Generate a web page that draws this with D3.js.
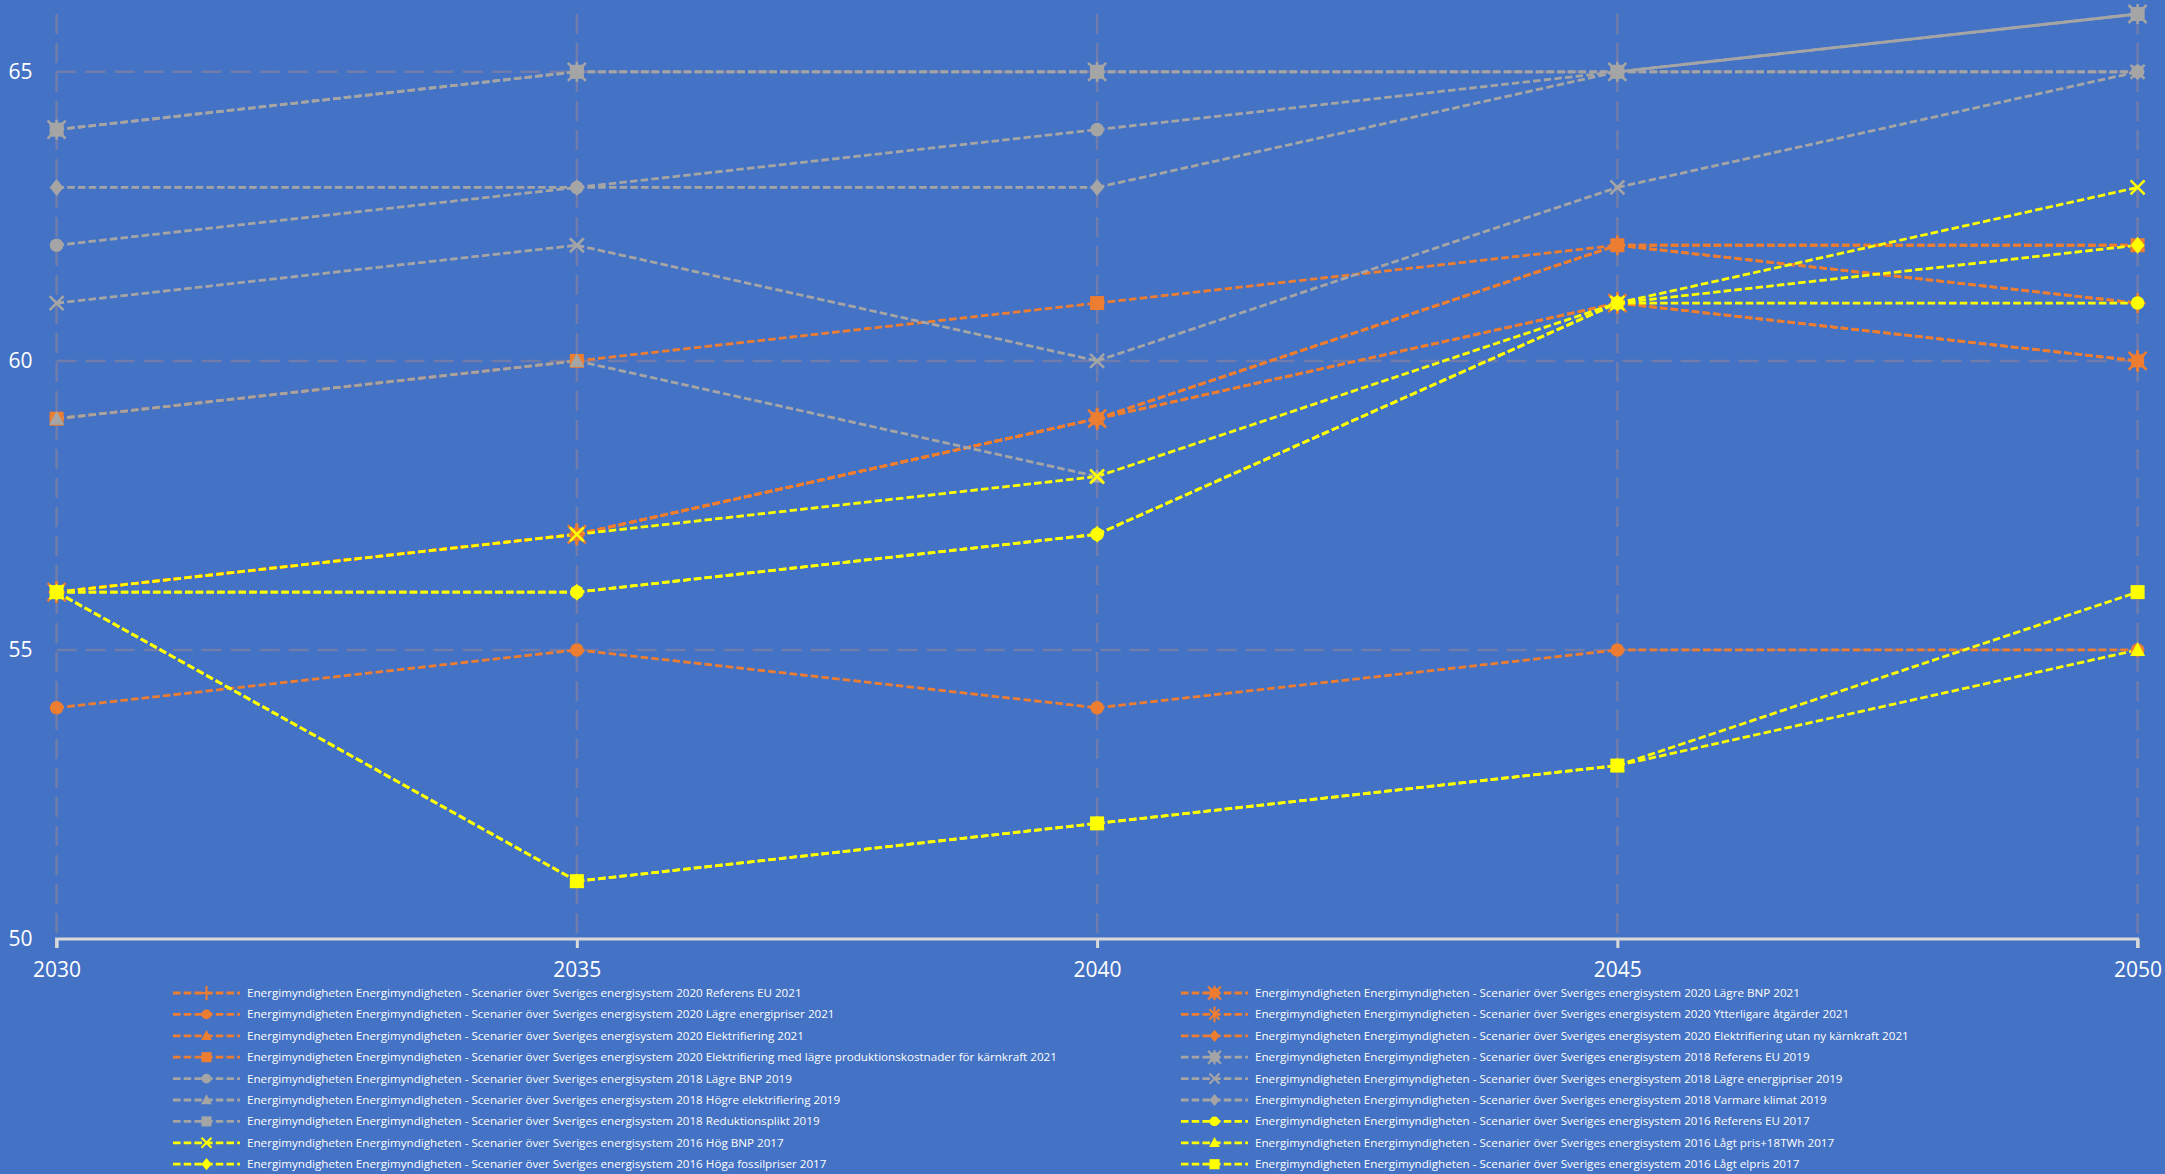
<!DOCTYPE html>
<html>
<head>
<meta charset="utf-8">
<script src="https://cdn.jsdelivr.net/npm/d3@7"></script>
<style>
  html, body { margin: 0; padding: 0; background: #4472C4; overflow: hidden; }
  svg { display: block; }
</style>
</head>
<body>
<svg id="chart" width="2165" height="1174"></svg>
<script>
// Category axis and value ticks
const years = ["2030", "2035", "2040", "2045", "2050"];
const yTicks = [50, 55, 60, 65];

// Scenario values per year (2030, 2035, 2040, 2045, 2050)
const ea2020RefEU = [56, 57, 59, 62, 61];
const ea2020LagreBNP = [56, 57, 59, 61, 60];
const ea2020LagreEnergipriser = [54, 55, 54, 55, 55];
const ea2020Ytterligare = [56, 57, 59, 61, 60];
const ea2020Elektrifiering = [56, 57, 59, 62, 62];
const ea2020ElUtanKarnkraft = [56, 57, 59, 62, 61];
const ea2020ElLagreKostnader = [59, 60, 61, 62, 62];
const ea2018RefEU = [64, 65, 65, 65, 66];
const ea2018LagreBNP = [62, 63, 64, 65, 65];
const ea2018LagreEnergipriser = [61, 62, 60, 63, 65];
const ea2018HogreEl = [59, 60, 58, null, null];
const ea2018Varmare = [63, 63, 63, 65, 65];
const ea2018Reduktionsplikt = [64, 65, 65, 65, 66];
const ea2016RefEU = [56, 56, 57, 61, 61];
const ea2016HogBNP = [56, 57, 58, 61, 63];
const ea2016LagtPris18 = [56, 51, 52, 53, 55];
const ea2016HogaFossil = [56, 56, 57, 61, 62];
const ea2016LagtElpris = [56, 51, 52, 53, 56];

const prefix = "Energimyndigheten Energimyndigheten - Scenarier över Sveriges energisystem ";
const seriesNames = [
  "2020 Referens EU 2021",
  "2020 Lägre BNP 2021",
  "2020 Lägre energipriser 2021",
  "2020 Ytterligare åtgärder 2021",
  "2020 Elektrifiering 2021",
  "2020 Elektrifiering utan ny kärnkraft 2021",
  "2020 Elektrifiering med lägre produktionskostnader för kärnkraft 2021",
  "2018 Referens EU 2019",
  "2018 Lägre BNP 2019",
  "2018 Lägre energipriser 2019",
  "2018 Högre elektrifiering 2019",
  "2018 Varmare klimat 2019",
  "2018 Reduktionsplikt 2019",
  "2016 Referens EU 2017",
  "2016 Hög BNP 2017",
  "2016 Lågt pris+18TWh 2017",
  "2016 Höga fossilpriser 2017",
  "2016 Lågt elpris 2017"
];
const seriesValues = [
  ea2020RefEU, ea2020LagreBNP, ea2020LagreEnergipriser, ea2020Ytterligare,
  ea2020Elektrifiering, ea2020ElUtanKarnkraft, ea2020ElLagreKostnader,
  ea2018RefEU, ea2018LagreBNP, ea2018LagreEnergipriser, ea2018HogreEl,
  ea2018Varmare, ea2018Reduktionsplikt,
  ea2016RefEU, ea2016HogBNP, ea2016LagtPris18, ea2016HogaFossil, ea2016LagtElpris
];
const seriesMarkers = [
  "plus", "starSquare", "circle", "star", "triangle", "diamond", "square",
  "starSquare", "circle", "x", "triangle", "diamond", "square",
  "circle", "x", "triangle", "diamond", "square"
];

const ORANGE = "#ED7D31", GRAY = "#A5A5A5", YELLOW = "#FFFF00";
const colorFor = name => name.startsWith("2020") ? ORANGE : name.startsWith("2018") ? GRAY : YELLOW;

// Series whose final segment is drawn as a solid line
const solidTail = new Set(["2018 Referens EU 2019"]);

const series = seriesNames.map((n, i) => ({
  name: n, label: prefix + n, values: seriesValues[i],
  marker: seriesMarkers[i], color: colorFor(n)
}));

const svg = d3.select("#chart");
const plot = { left: 56.6, right: 2137.6, top: 14, bottom: 939 };

const x = d3.scalePoint().domain(years).range([plot.left, plot.right]);
const y = d3.scaleLinear().domain([50, 66]).range([plot.bottom, plot.top]);

const gridColor = "rgb(112,124,172)";
const FONT = "'Open Sans', 'Noto Sans', sans-serif";
const SERIES_DASH = "7.5,3.2";

// Gridlines
const grid = svg.append("g");
grid.selectAll("line.h").data(yTicks.filter(t => t > 50)).join("line")
  .attr("x1", plot.left).attr("x2", plot.right)
  .attr("y1", d => y(d)).attr("y2", d => y(d))
  .attr("stroke", gridColor).attr("stroke-width", 2.5)
  .attr("stroke-dasharray", "20,9");
grid.selectAll("line.v").data(years).join("line")
  .attr("x1", d => x(d)).attr("x2", d => x(d))
  .attr("y1", plot.top).attr("y2", plot.bottom)
  .attr("stroke", gridColor).attr("stroke-width", 2.5)
  .attr("stroke-dasharray", "20,9");

// Y axis labels
const yAxis = d3.axisLeft(y).tickValues(yTicks).tickSize(0).tickPadding(0).tickFormat(d3.format("d"));
const yG = svg.append("g").attr("transform", `translate(${plot.left - 24},0)`).call(yAxis);
yG.select(".domain").remove();
yG.selectAll("text").attr("fill", "#ffffff").attr("font-family", FONT).attr("font-size", 21);

// X axis
const xAxis = d3.axisBottom(x).tickSize(9).tickPadding(14);
const xG = svg.append("g").attr("transform", `translate(0,${plot.bottom})`).call(xAxis);
xG.select(".domain").attr("stroke", "#D9D9D9").attr("stroke-width", 3)
  .attr("d", `M${plot.left},9V0H${plot.right}V9`);
xG.selectAll(".tick line").attr("stroke", "#D9D9D9").attr("stroke-width", 3);
xG.selectAll("text").attr("fill", "#ffffff").attr("font-family", FONT).attr("font-size", 21);

// Marker drawing
function drawMarker(g, type, color, s) {
  const sw = 2.6 * Math.max(s, 0.8);
  const line = (x1, y1, x2, y2) => g.append("line")
    .attr("x1", x1).attr("y1", y1).attr("x2", x2).attr("y2", y2)
    .attr("stroke", color).attr("stroke-width", sw);
  switch (type) {
    case "circle":
      g.append("circle").attr("r", 6.8 * s).attr("fill", color); break;
    case "square":
      g.append("rect").attr("x", -7 * s).attr("y", -7 * s).attr("width", 14 * s).attr("height", 14 * s).attr("fill", color); break;
    case "diamond":
      g.append("path").attr("d", `M0,${-8.5 * s}L${7 * s},0L0,${8.5 * s}L${-7 * s},0Z`).attr("fill", color); break;
    case "triangle":
      g.append("path").attr("d", `M0,${-8 * s}L${7.5 * s},${6 * s}L${-7.5 * s},${6 * s}Z`).attr("fill", color); break;
    case "x":
      line(-7 * s, -7 * s, 7 * s, 7 * s); line(-7 * s, 7 * s, 7 * s, -7 * s); break;
    case "plus":
      line(0, -10 * s, 0, 10 * s); line(-8 * s, 0, 8 * s, 0); break;
    case "star":
      line(-7 * s, -7 * s, 7 * s, 7 * s); line(-7 * s, 7 * s, 7 * s, -7 * s); line(0, -11 * s, 0, 11 * s); break;
    case "starSquare":
      g.append("rect").attr("x", -6.5 * s).attr("y", -6.5 * s).attr("width", 13 * s).attr("height", 13 * s).attr("fill", color);
      line(-9 * s, -9 * s, 9 * s, 9 * s); line(-9 * s, 9 * s, 9 * s, -9 * s); line(0, -10 * s, 0, 10 * s);
      break;
  }
}

// Series lines: each segment is its own path so the dash pattern restarts at every point
const linesG = svg.append("g");
series.forEach(s => {
  const solid = solidTail.has(s.name);
  for (let i = 0; i < years.length - 1; i++) {
    const a = s.values[i], b = s.values[i + 1];
    if (a === null || b === null) continue;
    const isTail = solid && i === years.length - 2;
    linesG.append("path")
      .attr("d", d3.line()([[x(years[i]), y(a)], [x(years[i + 1]), y(b)]]))
      .attr("fill", "none").attr("stroke", s.color).attr("stroke-width", 2.8)
      .attr("stroke-dasharray", isTail ? null : SERIES_DASH);
  }
});

// Series markers
const markersG = svg.append("g");
series.forEach(s => {
  s.values.forEach((v, i) => {
    if (v === null) return;
    const g = markersG.append("g").attr("transform", `translate(${x(years[i])},${y(v)})`);
    drawMarker(g, s.marker, s.color, 1);
  });
});

// Legend: two columns, row-major
const legend = svg.append("g");
const legCols = [173, 1181];
const legRow0 = 993, legRowH = 21.4;
const legendItems = legend.selectAll("g").data(series).join("g")
  .attr("transform", (d, i) => `translate(${legCols[i % 2]},${legRow0 + Math.floor(i / 2) * legRowH})`);
legendItems.append("line").attr("x1", 0).attr("x2", 67).attr("y1", 0).attr("y2", 0)
  .attr("stroke", d => d.color).attr("stroke-width", 2.8).attr("stroke-dasharray", SERIES_DASH);
legendItems.each(function (d) {
  const g = d3.select(this).append("g").attr("transform", "translate(33.5,0)");
  drawMarker(g, d.marker, d.color, 0.72);
});
const legTexts = legendItems.append("text").attr("x", 74).attr("y", 0).attr("dy", "0.35em")
  .attr("fill", "#ffffff").attr("font-family", "'Liberation Sans Narrow', 'Open Sans', sans-serif")
  .attr("font-size", 14).text(d => d.label);
// Fit legend type so the longest label spans its column
const longest = legTexts.filter((d, i) => i === 6).node();
const w = longest.getComputedTextLength();
legTexts.attr("font-size", 14 * 811 / w);
</script>
</body>
</html>
